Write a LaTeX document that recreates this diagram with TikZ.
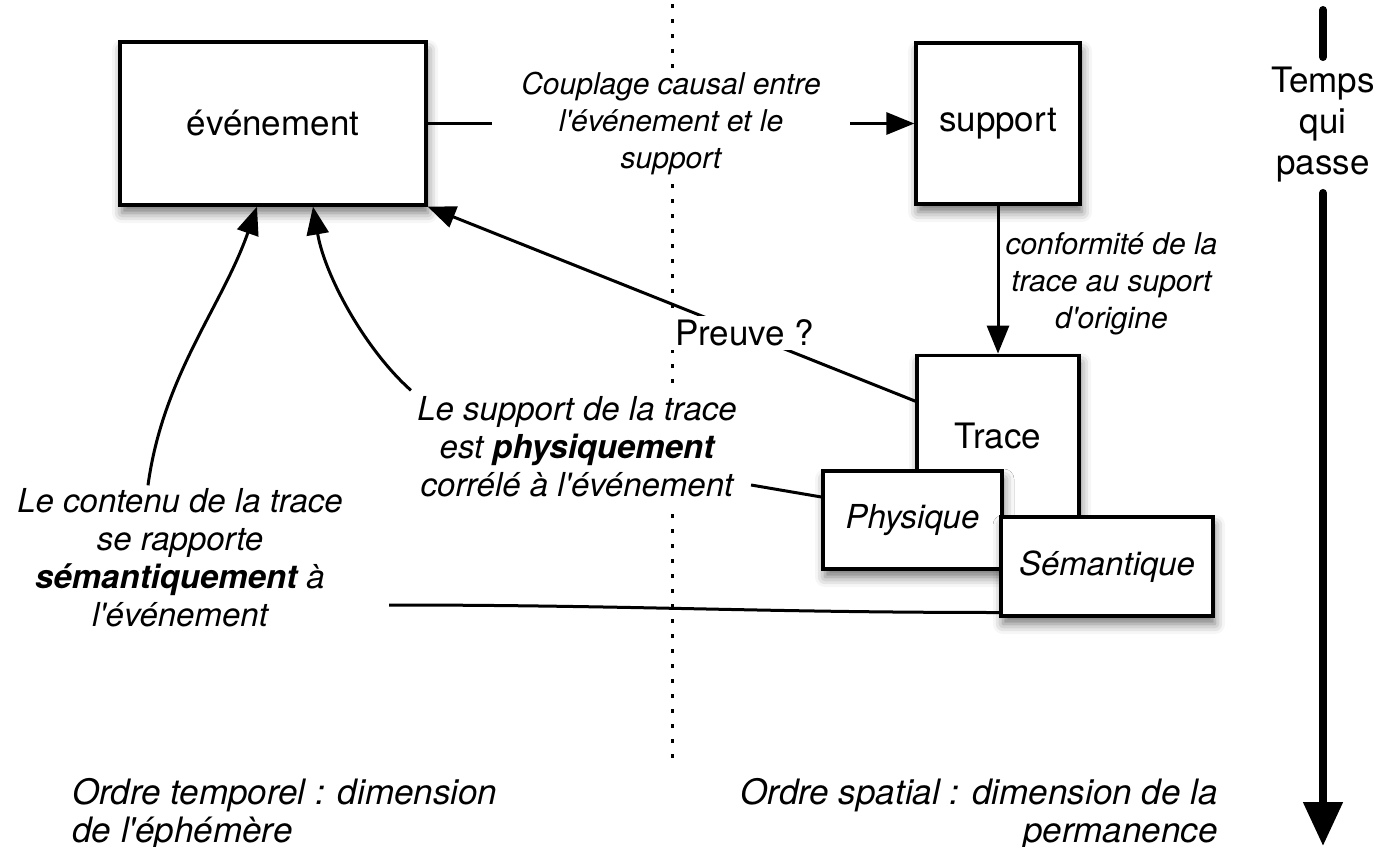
\documentclass[tikz,border=0pt]{standalone}
\usepackage{fontspec}
\newfontfamily\heros{TeX Gyre Heros}
\usetikzlibrary{positioning,calc,arrows.meta,shadows.blur}

\tikzstyle{box} = [draw=black,
				   line width=1.6pt,
				   fill=white,
				   align=center,
				   font=\heros\fontsize{17.5}{21}\selectfont,
				   blur shadow={shadow xshift=1pt,
								shadow yshift=-4pt,
								shadow blur radius=5pt,
								shadow opacity=55}]
\tikzstyle{subbox} = [box,
					  font=\heros\fontsize{16.5}{19}\selectfont\itshape]
\tikzstyle{note} = [align=center,
					inner sep=3pt,
					font=\heros\fontsize{16.5}{19}\selectfont\itshape]
\tikzstyle{smallnote} = [note,
						 font=\heros\fontsize{15}{18.5}\selectfont\itshape]
\tikzstyle{bignote} = [note,
					   font=\heros\fontsize{17.5}{19}\selectfont\itshape]
\tikzstyle{wire} = [line width=1.5pt]
\tikzstyle{link} = [wire, -{Triangle[length=14pt,width=11pt]}]
\tikzstyle{timeline} = [line width=4pt, line cap=round]

\begin{document}
\begin{tikzpicture}[x=0.5pt,y=-0.5pt]
	\useasboundingbox (0,0) rectangle (1389,847);

	% separation temporel / spatial
	\coordinate (septop) at (672,4);
	\coordinate (sepbot) at (672,768);
	\draw[line width=1.5pt, dash pattern=on 2pt off 5.5pt] (septop) -- (sepbot);

	%%%%%%%%%%
	% BOXES  %
	%%%%%%%%%%
	\node[box, minimum width=153pt, minimum height=81.5pt] (evt) at (273,123.5) {événement};
	\node[box, minimum width=82pt, minimum height=80.5pt] (supp) at (998,123.5) {support};
	\node[box, minimum width=81pt, minimum height=81pt, below=74pt of supp] (trace) {Trace};
	\node[subbox, minimum width=89.5pt, minimum height=49pt] (phys) at (912.5,520) {Physique};
	\node[subbox, minimum width=106pt, minimum height=49.5pt] (sem) at (1107,566.5) {Sémantique};

	%%%%%%%%%%
	% LABELS %
	%%%%%%%%%%
	\node[note, fill=white] (lblphys) at (577,447) {Le support de la trace\\est \textbf{physiquement}\\corrélé à l'événement};
	\node[note] (lblcont) at (180,558) {Le contenu de la trace\\se rapporte\\\textbf{sémantiquement} à\\l'événement};
	\node[bignote, align=left, anchor=west] (otemp) at (66,814) {Ordre temporel : dimension\\de l'éphémère};
	\node[bignote, align=right, anchor=east] (ospat) at (1224,814) {Ordre spatial : dimension de la\\permanence};

	%%%%%%%%%%
	% LINKS  %
	%%%%%%%%%%
	\draw[link] (evt) -- node[smallnote, fill=white, inner xsep=14.5pt, inner ysep=1pt] (coupl) {Couplage causal entre\\l'événement et le\\support} (supp);
	\draw[link] (supp) -- node[smallnote, midway, right, yshift=-2pt] (lblconf) {conformité de la\\trace au suport\\d'origine} (trace);
	\draw[link] ([shift={(0,-35)}]trace.west) -- node[pos=.35, fill=white, inner xsep=6pt, inner ysep=2pt, font=\heros\fontsize{17.5}{21}\selectfont] (preuve) {Preuve ?} (evt.south east);
	\draw[wire] ([shift={(8,38)}]lblphys.east) -- ([shift={(0,-23)}]phys.west);
	\draw[link] (lblphys.north west) .. controls +(-45,-40) and +(12,70) .. ([shift={(40,0)}]evt.south);
	\draw[link] ([shift={(-32,3)}]lblcont.north) .. controls +(15,-110) and +(-35,100) .. ([shift={(-16,0)}]evt.south);
	\draw[wire] ([shift={(40,47)}]lblcont.east) to[out=0, in=180] ([shift={(0,46)}]sem.west);

	% temps qui passe
	\coordinate (ttop) at (1323,10);
	\coordinate (tbot) at (1323,846);
	\node[align=center, inner sep=5pt, font=\heros\fontsize{17.5}{20.5}\selectfont] (temps) at (1323,125) {Temps\\qui\\passe};
	\draw[timeline] (ttop) -- (temps);
	\draw[timeline, -{Triangle[length=22pt,width=19pt]}] (temps) -- (tbot);

\end{tikzpicture}
\end{document}
